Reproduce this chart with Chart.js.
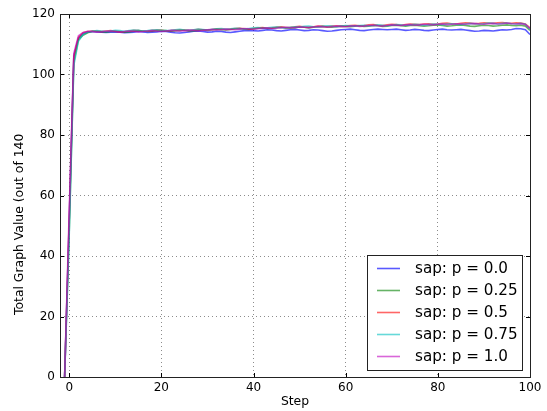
<!DOCTYPE html>
<html>
<head>
<meta charset="utf-8">
<script src="https://cdn.jsdelivr.net/npm/chart.js@4.4.0/dist/chart.umd.min.js"></script>
<style>
html,body{margin:0;padding:0;background:#fff;}
#wrap{width:547px;height:411px;position:relative;}
</style>
</head>
<body>
<div id="wrap"><canvas id="c" width="547" height="411"></canvas></div>
<script>
const steps = [-1,0,1,2,3,4,5,6,7,8,9,10,11,12,13,14,15,16,17,18,19,20,21,22,23,24,25,26,27,28,29,30,31,32,33,34,35,36,37,38,39,40,41,42,43,44,45,46,47,48,49,50,51,52,53,54,55,56,57,58,59,60,61,62,63,64,65,66,67,68,69,70,71,72,73,74,75,76,77,78,79,80,81,82,83,84,85,86,87,88,89,90,91,92,93,94,95,96,97,98,99,100];

const seriesLabels = ['sap: p = 0.0','sap: p = 0.25','sap: p = 0.5','sap: p = 0.75','sap: p = 1.0'];
const seriesColors = ['rgba(0,0,255,0.65)','rgba(0,128,0,0.6)','rgba(255,0,0,0.6)','rgba(0,191,191,0.6)','rgba(191,0,191,0.6)'];
const yTitle = 'Total Graph Value (out of 140';
const xTitle = 'Step';

const p00 = [0,52,106,112,
113.5,114,114.2,114.1,114.0,113.9,114.0,114.1,114.0,113.8,113.9,114.0,114.2,114.1,113.9,114.0,114.1,114.3,
114.2,114.0,113.8,113.7,113.9,114.1,114.3,114.4,114.2,114.0,114.1,114.3,114.2,114.0,113.9,114.1,114.3,114.5,114.6,114.5,
114.4,114.6,114.8,114.7,114.5,114.4,114.6,114.8,114.9,114.7,114.5,114.6,114.8,114.7,114.5,114.3,114.4,114.6,114.8,114.9,
115.0,114.8,114.6,114.5,114.7,114.9,115.0,114.9,114.8,114.9,115.0,114.8,114.6,114.7,114.9,114.8,114.6,114.5,114.7,114.9,
115.0,114.8,114.7,114.8,114.9,114.7,114.5,114.3,114.4,114.6,114.5,114.4,114.6,114.8,114.7,114.9,115.2,115.1,114.8,113.2];

const p025 = [0,48,104,111.5,
113.0,113.8,114.2,114.3,114.1,114.0,114.2,114.3,114.2,114.0,114.1,114.3,114.5,114.4,114.2,114.3,114.5,114.6,
114.5,114.3,114.4,114.6,114.7,114.5,114.4,114.6,114.8,114.7,114.9,115.0,114.8,114.7,114.9,115.1,115.2,115.0,114.9,115.1,
115.3,115.4,115.2,115.3,115.5,115.6,115.4,115.3,115.5,115.7,115.6,115.4,115.6,115.8,115.9,115.7,115.6,115.8,116.0,115.9,
115.8,116.0,116.1,115.9,116.0,116.2,116.1,115.9,116.0,116.2,116.3,116.1,116.0,116.2,116.3,116.1,116.0,116.1,116.3,116.4,
116.2,116.0,116.1,116.3,116.4,116.2,116.0,115.9,116.1,116.3,116.2,116.0,116.1,116.3,116.4,116.2,116.1,116.3,116.0,114.6];

const p05 = [0,52,106,112.3,
113.8,114.2,114.4,114.3,114.2,114.4,114.5,114.3,114.1,114.2,114.4,114.6,114.5,114.3,114.4,114.6,114.7,114.6,
114.4,114.5,114.7,114.8,114.6,114.5,114.7,114.9,114.8,114.6,114.8,115.0,115.1,114.9,115.0,115.2,115.3,115.1,115.0,115.2,
115.4,115.5,115.3,115.4,115.6,115.7,115.5,115.6,115.8,115.9,115.7,115.6,115.8,116.0,115.9,115.8,116.0,116.1,115.9,116.0,
116.2,116.3,116.1,116.2,116.4,116.5,116.3,116.2,116.4,116.6,116.5,116.3,116.5,116.7,116.6,116.5,116.7,116.8,116.6,116.7,
116.9,117.0,116.8,116.7,116.9,117.1,117.0,116.8,116.9,117.1,117.0,116.9,117.1,117.2,117.0,116.9,117.1,117.0,116.7,115.4];

const p075 = [0,47,103,111,
113.2,114.0,114.3,114.5,114.4,114.2,114.4,114.6,114.5,114.3,114.5,114.7,114.6,114.4,114.5,114.7,114.8,114.6,
114.5,114.6,114.8,114.9,114.7,114.6,114.8,115.0,114.9,114.7,114.9,115.1,115.2,115.0,115.1,115.3,115.2,115.0,115.2,115.4,
115.5,115.3,115.4,115.6,115.7,115.5,115.4,115.6,115.8,115.7,115.9,116.0,115.8,115.7,115.9,116.1,116.0,115.8,116.0,116.2,
116.1,116.0,116.2,116.3,116.1,116.2,116.4,116.3,116.1,116.3,116.5,116.4,116.2,116.4,116.6,116.5,116.3,116.5,116.7,116.6,
116.5,116.7,116.8,116.6,116.5,116.7,116.9,116.8,116.6,116.8,117.0,116.9,116.7,116.9,117.0,116.8,116.7,116.9,116.6,115.0];

const p10 = [0,55,107,112.8,
113.9,114.3,114.2,114.0,114.1,114.3,114.4,114.2,114.0,114.2,114.4,114.3,114.1,114.2,114.4,114.5,114.3,114.2,
114.4,114.6,114.5,114.3,114.5,114.7,114.6,114.4,114.6,114.8,114.9,114.7,114.8,115.0,114.9,114.8,115.0,115.2,115.1,114.9,
115.1,115.3,115.4,115.2,115.3,115.5,115.6,115.4,115.5,115.7,115.6,115.5,115.7,115.9,115.8,115.6,115.8,116.0,115.9,115.8,
116.0,116.1,115.9,116.0,116.2,116.3,116.1,116.0,116.2,116.4,116.3,116.2,116.4,116.5,116.3,116.4,116.6,116.5,116.4,116.6,
116.7,116.5,116.6,116.8,116.7,116.6,116.8,116.9,116.7,116.6,116.8,116.9,116.7,116.8,117.0,116.8,116.7,116.8,116.5,115.2];

const xTicks = [0,20,40,60,80,100];
const yTicks = [0,20,40,60,80,100,120];

const allSeries = [p00,p025,p05,p075,p10];
const FONT = "'DejaVu Sans', sans-serif";

const datasets = allSeries.map((vals, i) => ({
  label: seriesLabels[i],
  data: steps.map((s, j) => ({x: s, y: vals[j]})),
  borderColor: seriesColors[i],
  backgroundColor: seriesColors[i],
  borderWidth: 1.6,
  pointRadius: 0,
  fill: false,
  tension: 0,
  order: allSeries.length - 1 - i
}));

const framePlugin = {
  id: 'frame',
  afterDraw(chart) {
    const {ctx, chartArea: a, scales} = chart;
    ctx.save();
    ctx.strokeStyle = '#000';
    ctx.lineWidth = 1;
    ctx.beginPath();
    xTicks.forEach(v => {
      const x = Math.round(scales.x.getPixelForValue(v)) + 0.5;
      ctx.moveTo(x, a.bottom); ctx.lineTo(x, a.bottom - 4);
      ctx.moveTo(x, a.top); ctx.lineTo(x, a.top + 4);
    });
    yTicks.forEach(v => {
      const y = Math.round(scales.y.getPixelForValue(v)) + 0.5;
      ctx.moveTo(a.left, y); ctx.lineTo(a.left + 4, y);
      ctx.moveTo(a.right, y); ctx.lineTo(a.right - 4, y);
    });
    ctx.stroke();
    ctx.strokeStyle = '#222';
    ctx.strokeRect(Math.round(a.left) + 0.5, Math.round(a.top) + 0.5, Math.round(a.right - a.left), Math.round(a.bottom - a.top));
    // y axis title
    ctx.save();
    ctx.translate(20, 315);
    ctx.rotate(-Math.PI / 2);
    ctx.font = "12.4px " + FONT;
    ctx.fillStyle = '#000';
    ctx.textAlign = 'left';
    ctx.textBaseline = 'middle';
    ctx.fillText(yTitle, 0, 0);
    ctx.restore();
    // x axis title
    ctx.font = "12.4px " + FONT;
    ctx.fillStyle = '#000';
    ctx.textAlign = 'center';
    ctx.textBaseline = 'middle';
    ctx.fillText(xTitle, (a.left + a.right) / 2, 402);
    // legend
    const lx = 367.5, ly = 255.5, lw = 155, lh = 115;
    ctx.fillStyle = '#fff';
    ctx.fillRect(lx, ly, lw, lh);
    ctx.strokeStyle = '#222';
    ctx.strokeRect(lx, ly, lw, lh);
    ctx.font = "15.2px " + FONT;
    ctx.textBaseline = 'middle';
    ctx.textAlign = 'left';
    chart.data.datasets.forEach((d, i) => {
      const y = 268 + i * 22;
      ctx.strokeStyle = d.borderColor;
      ctx.lineWidth = 1.6;
      ctx.beginPath();
      ctx.moveTo(377, y + 0.5); ctx.lineTo(400, y + 0.5);
      ctx.stroke();
      ctx.fillStyle = '#000';
      ctx.fillText(d.label, 415, y + 1);
    });
    ctx.restore();
  }
};

new Chart(document.getElementById('c'), {
  type: 'line',
  data: { datasets },
  options: {
    responsive: false,
    animation: false,
    layout: { padding: { left: 0, top: 14, right: 17, bottom: 0 } },
    plugins: { legend: { display: false }, tooltip: { enabled: false } },
    scales: {
      x: {
        type: 'linear',
        min: -2, max: 100,
        afterFit(s) { s.height = 34; },
        ticks: { stepSize: 20, includeBounds: false, color: '#000', font: { family: FONT, size: 12 }, padding: 4, maxRotation: 0 },
        grid: { drawTicks: false, color: 'rgba(0,0,0,0.45)', lineWidth: 1 },
        border: { display: false, dash: [1, 3] }
      },
      y: {
        min: 0, max: 120,
        afterFit(s) { s.width = 60; },
        ticks: { stepSize: 20, color: '#000', font: { family: FONT, size: 12 }, padding: 5 },
        grid: { drawTicks: false, color: 'rgba(0,0,0,0.45)', lineWidth: 1 },
        border: { display: false, dash: [1, 3] }
      }
    }
  },
  plugins: [framePlugin]
});
</script>
</body>
</html>
